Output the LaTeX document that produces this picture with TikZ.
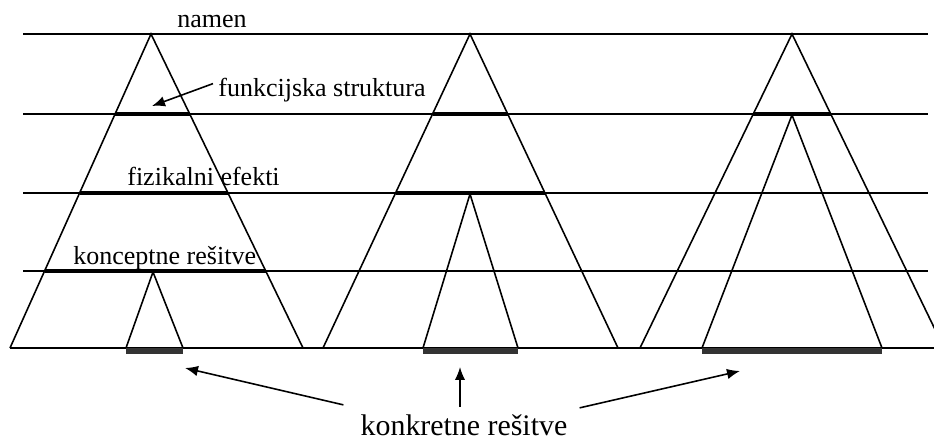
\documentclass[tikz,border=0pt]{standalone}
\usepackage{fontspec}
\setmainfont{Liberation Serif}
\usetikzlibrary{arrows.meta, calc}

\begin{document}
\begin{tikzpicture}[
  x=0.02cm, y=-0.02cm,
  font=\fontsize{14.8}{17}\selectfont,
  level/.style={line width=0.8pt},
  tri/.style={line width=0.9pt, line join=miter},
  bar/.style={line width=2.5pt},
  sol/.style={line width=3.2pt, black!80},
  lbl/.style={inner sep=0pt, anchor=base west},
  pointer/.style={-{Latex[length=0.26cm, width=0.21cm]}, line width=0.9pt}
]
\useasboundingbox (0,0) rectangle (934,439);
\clip (0,0) rectangle (934,439);
% --- nivoji ---
\foreach \yy in {34,114,193,271}
  \draw[level] (23,\yy) -- (928,\yy);
\draw[level] (10,348) -- (934,348);
% --- veliki trikotniki ---
\coordinate (a1) at (151,34); \coordinate (l1) at (10,348);  \coordinate (r1) at (303,348);
\coordinate (a2) at (470,34); \coordinate (l2) at (323,348); \coordinate (r2) at (618,348);
\coordinate (a3) at (792,34); \coordinate (l3) at (640,348); \coordinate (r3) at (944,348);
\draw[tri] (l1) -- (a1) -- (r1);
\draw[tri] (l2) -- (a2) -- (r2);
\draw[tri] (l3) -- (a3) -- (r3);
% --- notranji trikotniki ---
\coordinate (b1) at (153,272); \coordinate (bl1) at (126,348); \coordinate (br1) at (183,348);
\coordinate (b2) at (470,194); \coordinate (bl2) at (423,348); \coordinate (br2) at (518,348);
\coordinate (b3) at (792,115); \coordinate (bl3) at (702,348); \coordinate (br3) at (882,348);
\draw[tri] (bl1) -- (b1) -- (br1);
\draw[tri] (bl2) -- (b2) -- (br2);
\draw[tri] (bl3) -- (b3) -- (br3);
% --- odebeljene resitve na nivojih ---
\draw[bar] ($(a1)!0.2548!(l1)$) -- ($(a1)!0.2548!(r1)$);
\draw[bar] ($(a1)!0.5064!(l1)$) -- ($(a1)!0.5064!(r1)$);
\draw[bar] ($(a1)!0.7548!(l1)$) -- ($(a1)!0.7548!(r1)$);
\draw[bar] ($(a2)!0.2548!(l2)$) -- ($(a2)!0.2548!(r2)$);
\draw[bar] ($(a2)!0.5064!(l2)$) -- ($(a2)!0.5064!(r2)$);
\draw[bar] ($(a3)!0.2548!(l3)$) -- ($(a3)!0.2548!(r3)$);
\draw[sol] ($(bl1)+(0,2.8)$) -- ($(br1)+(0,2.8)$);
\draw[sol] ($(bl2)+(0,2.8)$) -- ($(br2)+(0,2.8)$);
\draw[sol] ($(bl3)+(0,2.8)$) -- ($(br3)+(0,2.8)$);
% --- napisi ---
\node[lbl] (namen) at (177,28) {namen};
\node[lbl] (funk) at (218,97) {funkcijska struktura};
\node[lbl] (fiz) at (127,186) {fizikalni efekti};
\node[lbl] (konc) at (73,264) {konceptne rešitve};
\node[inner sep=0pt, anchor=base, font=\fontsize{17}{20}\selectfont] (konk) at (464,435) {konkretne rešitve};
% --- puscice ---
\coordinate (fs) at (152,106);
\draw[pointer] ([xshift=-0.1cm, yshift=0.14cm]funk.west) -- (fs);
\coordinate (k1) at (185,368);
\coordinate (k2) at (460,367);
\coordinate (k3) at (740,371);
\draw[pointer] ([xshift=-0.34cm, yshift=0.18cm]konk.north west) -- (k1);
\draw[pointer] ([xshift=-0.08cm, yshift=0.14cm]konk.north) -- (k2);
\draw[pointer] ([xshift=0.24cm, yshift=0.12cm]konk.north east) -- (k3);
\end{tikzpicture}
\end{document}
